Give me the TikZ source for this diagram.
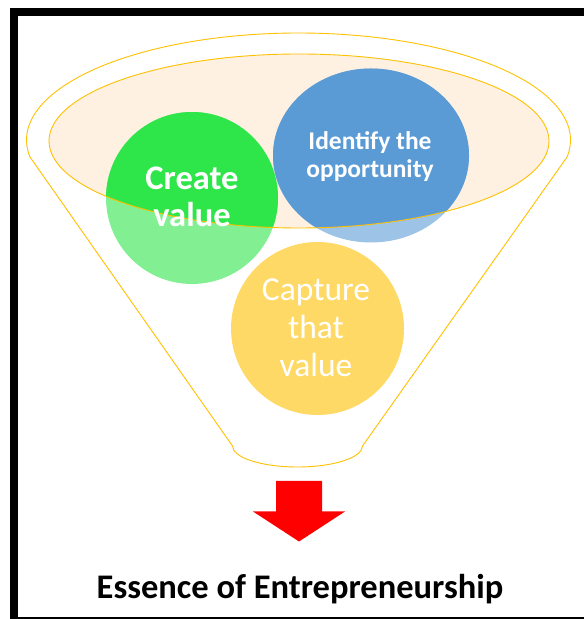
\documentclass[tikz,border=0pt]{standalone}
\usepackage{fontspec}
\setmainfont{Carlito}
\definecolor{funnelline}{HTML}{FFC000}
\definecolor{rimfill}{HTML}{FEF1E2}
\definecolor{cgreen}{HTML}{2EE64A}
\definecolor{cblue}{HTML}{5B9BD5}
\definecolor{cyellow}{HTML}{FFC000}
\definecolor{arrowred}{HTML}{FF0000}
\begin{document}
\begin{tikzpicture}[x=1bp,y=1bp,
  outline/.style={draw=funnelline, line width=0.9bp},
  lighter/.style={opacity=0.6},
  label/.style={text=white, align=center, inner sep=0pt}]
\useasboundingbox (0,0) rectangle (584,619);
% frame
\begin{scope}
  \clip (0,0) rectangle (584,619);
  \draw[line width=7.8bp] (13.9,-1.5) rectangle (595,607);
\end{scope}
% funnel outline
\draw[outline] (30,462)
  arc[start angle=189.14, end angle=-9.14, x radius=272bp, y radius=107bp]
  -- (362.5,173)
  arc[start angle=0, end angle=-180, x radius=65bp, y radius=21bp]
  -- cycle;
% rim
\fill[rimfill] (299,478) ellipse[x radius=250bp, y radius=87bp];
% circles, lighter part (outside rim)
\fill[cblue, lighter] (371,463.5) ellipse[x radius=98bp, y radius=87bp];
\fill[cgreen, lighter] (192,421) circle[radius=86bp];
\fill[cyellow, lighter] (317.5,290.5) circle[radius=86.5bp];
% circles, full colour inside rim
\begin{scope}
  \clip (299,478) ellipse[x radius=250bp, y radius=87bp];
  \fill[cblue] (371,463.5) ellipse[x radius=98bp, y radius=87bp];
  \fill[cgreen] (192,421) circle[radius=86bp];
\end{scope}
\draw[outline] (299,478) ellipse[x radius=250bp, y radius=87bp];
% texts
\node[label, font=\bfseries\fontsize{34.5bp}{37bp}\selectfont] (create) at (192,422.5) {Create\\value};
\node[label, font=\bfseries\fontsize{25.5bp}{28.5bp}\selectfont] (identify) at (370,462.5) {Identify the\\opportunity};
\node[label, font=\fontsize{33.5bp}{38bp}\selectfont] (capture) at (316,291.2) {Capture\\that\\value};
% block arrow
\fill[arrowred] (276,138) -- (322,138) -- (322,107.5) -- (345,107.5) -- (299,77.5)
  -- (253,107.5) -- (276,107.5) -- cycle;
\node[font=\bfseries\fontsize{34.5bp}{40bp}\selectfont, anchor=base, inner sep=0pt] (essence) at (300,20) {Essence of Entrepreneurship};
\end{tikzpicture}
\end{document}
